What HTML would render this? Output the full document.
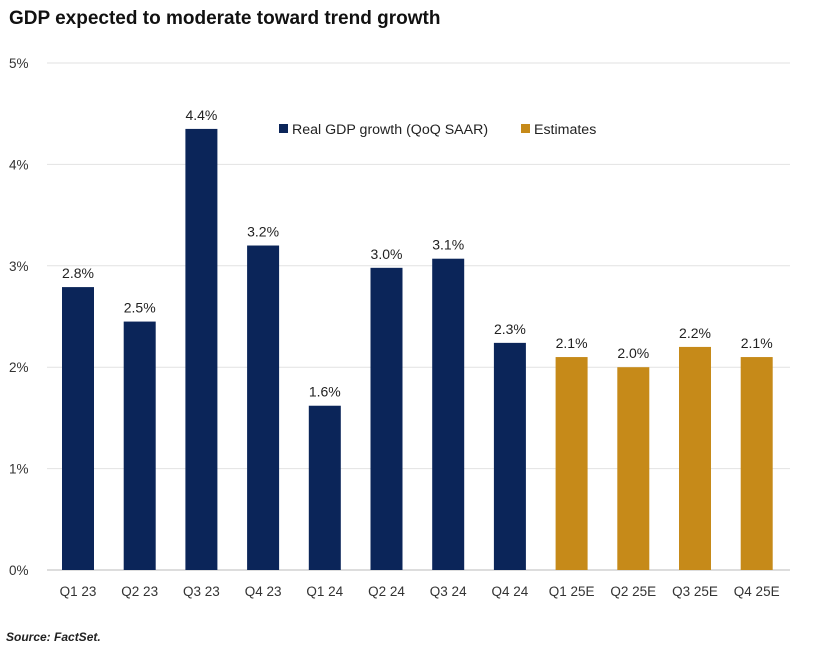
<!DOCTYPE html>
<html><head><meta charset="utf-8"><style>
body{margin:0;background:#fff;font-family:"Liberation Sans",sans-serif;}
svg text{font-family:"Liberation Sans",sans-serif;}
</style></head><body>
<svg width="817" height="653" viewBox="0 0 817 653">
<text x="9" y="24" font-size="19" font-weight="bold" fill="#111">GDP expected to moderate toward trend growth</text>
<g id="grid"></g><g id="bars"></g>
<g>
<rect x="279" y="124" width="9" height="9" fill="#0b2559"/>
<text x="292" y="134" font-size="14.2" fill="#222">Real GDP growth (QoQ SAAR)</text>
<rect x="521" y="124" width="9" height="9" fill="#c68a19"/>
<text x="534" y="134" font-size="14.2" fill="#222">Estimates</text>
</g>
<text x="6" y="641" font-size="12" font-style="italic" font-weight="bold" fill="#222">Source: FactSet.</text>
</svg>
<script>
const categories=["Q1 23","Q2 23","Q3 23","Q4 23","Q1 24","Q2 24","Q3 24","Q4 24","Q1 25E","Q2 25E","Q3 25E","Q4 25E"];
const values=[2.79,2.45,4.35,3.2,1.62,2.98,3.07,2.24,2.1,2.0,2.2,2.1];
const valueLabels=["2.8%","2.5%","4.4%","3.2%","1.6%","3.0%","3.1%","2.3%","2.1%","2.0%","2.2%","2.1%"];
const isEstimate=[false,false,false,false,false,false,false,false,true,true,true,true];
const yTicks=[0,1,2,3,4,5];
const yTickLabels=["0%","1%","2%","3%","4%","5%"];
const NS="http://www.w3.org/2000/svg";
const y0=570,ppu=101.4;
function y(v){return y0-v*ppu;}
function xc(i){return 78+i*61.7;}
const grid=document.getElementById('grid'),bars=document.getElementById('bars');
function mk(tag,attrs,parent,txt){const e=document.createElementNS(NS,tag);for(const k in attrs)e.setAttribute(k,attrs[k]);if(txt!==undefined)e.textContent=txt;parent.appendChild(e);return e;}
yTicks.forEach((t,i)=>{
 const l=mk('line',{x1:47,x2:790,y1:y(t),y2:y(t),stroke:t===0?'#bbb':'#e2e2e2','stroke-width':1},grid);
 
 
 const tx=mk('text',{x:9,y:y(t)+5,'font-size':13.5,fill:'#333'},grid,yTickLabels[i]);
 
 
});
categories.forEach((c,i)=>{
 const r=mk('rect',{x:xc(i)-16,y:y(values[i]),width:32,height:values[i]*ppu,fill:isEstimate[i]?'#c68a19':'#0b2559'},bars);
 
 
 const v=mk('text',{x:xc(i),y:y(values[i])-9,'font-size':14,fill:'#222','text-anchor':'middle'},bars,valueLabels[i]);
 
 
 const xl=mk('text',{x:xc(i),y:596,'font-size':13.5,fill:'#333','text-anchor':'middle'},bars,c);
 
 
});
</script>
</body></html>
